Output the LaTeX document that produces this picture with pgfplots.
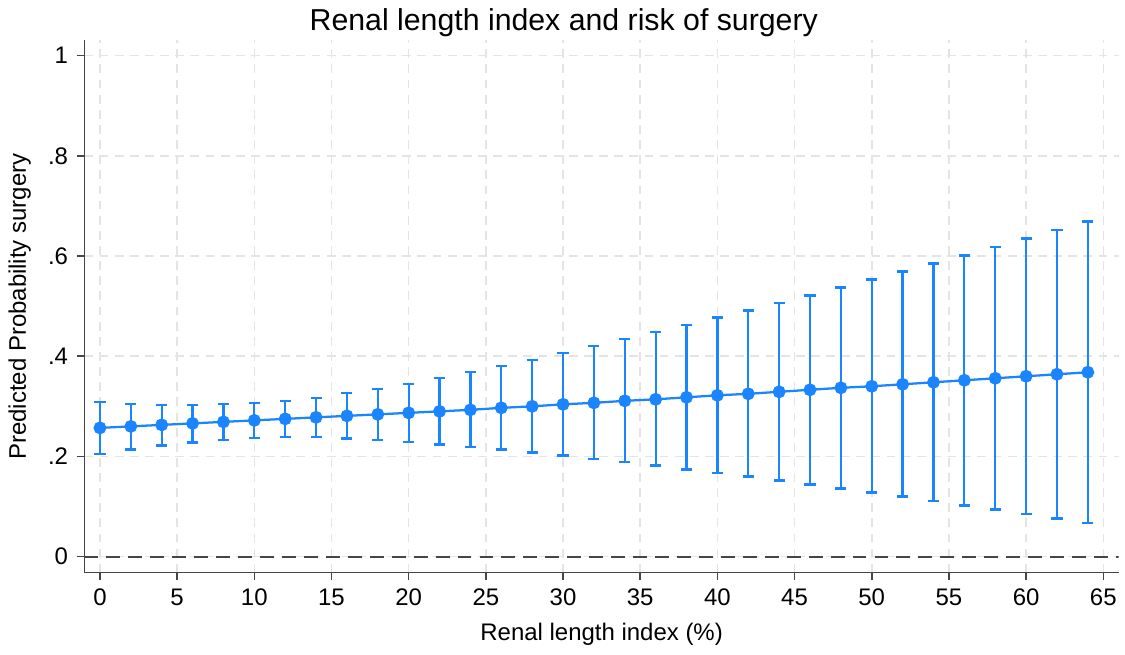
\documentclass[border=0pt]{standalone}
\usepackage{fontspec}
\setmainfont{Liberation Sans}
\usepackage{pgfplots}
\pgfplotsset{compat=1.18}
\usepackage{pgfplotstable}
\definecolor{stc1}{RGB}{26,133,255}
\definecolor{gridgray}{RGB}{228,228,228}
\definecolor{axgray}{RGB}{70,70,70}

% predicted probability with 95% CI
\pgfplotstableread{
x  p     hi    lo
0  0.257 0.308 0.205
2  0.260 0.305 0.214
4  0.263 0.303 0.222
6  0.266 0.303 0.228
8  0.269 0.304 0.233
10 0.272 0.306 0.237
12 0.275 0.310 0.239
14 0.278 0.317 0.239
16 0.281 0.326 0.236
18 0.284 0.335 0.233
20 0.287 0.345 0.229
22 0.290 0.357 0.224
24 0.293 0.368 0.219
26 0.297 0.381 0.214
28 0.300 0.393 0.208
30 0.304 0.407 0.202
32 0.307 0.420 0.195
34 0.311 0.434 0.189
36 0.314 0.448 0.182
38 0.318 0.462 0.174
40 0.322 0.477 0.167
42 0.325 0.491 0.160
44 0.329 0.506 0.152
46 0.333 0.521 0.144
48 0.337 0.537 0.136
50 0.340 0.553 0.128
52 0.344 0.569 0.120
54 0.348 0.585 0.111
56 0.352 0.601 0.102
58 0.356 0.618 0.094
60 0.360 0.635 0.085
62 0.364 0.652 0.076
64 0.368 0.669 0.067
}\riskdata

\begin{document}
\begin{tikzpicture}
\begin{axis}[
    scale only axis,
    width=410pt, height=211pt,
    xmin=-1, xmax=66,
    ymin=-0.032, ymax=1.03,
    axis lines=left,
    axis line style={-, axgray, line width=0.6pt},
    xtick={0,5,...,65},
    ytick={0,0.2,0.4,0.6,0.8,1},
    yticklabels={0,.2,.4,.6,.8,1},
    tick align=outside,
    major tick length=3pt,
    tick style={axgray, line width=0.6pt},
    grid=major,
    major grid style={gridgray, line width=0.6pt, dash pattern=on 3.5pt off 2.5pt},
    ticklabel style={font=\fontsize{9.5}{11}\selectfont},
    /pgf/number format/assume math mode=true,
    title={Renal length index and risk of surgery},
    title style={font=\fontsize{12}{14}\selectfont, xshift=-15pt, yshift=-8pt},
    xlabel={Renal length index (\%)},
    ylabel={Predicted Probability surgery},
    label style={font=\fontsize{9.5}{11}\selectfont},
]
\addplot[axgray, line width=0.8pt, dash pattern=on 5.5pt off 3.2pt, forget plot]
    coordinates {(-1,0) (66,0)};
\addplot[stc1, line width=0.9pt, mark=*, mark size=2.1pt,
    error bars/.cd, y dir=both, y explicit,
    error bar style={stc1, line width=0.9pt},
    error mark options={rotate=90, mark size=2.2pt, line width=0.9pt, stc1}]
    table[x=x, y=p,
          y error plus expr=\thisrow{hi}-\thisrow{p},
          y error minus expr=\thisrow{p}-\thisrow{lo}] {\riskdata};
\end{axis}
\end{tikzpicture}
\end{document}
